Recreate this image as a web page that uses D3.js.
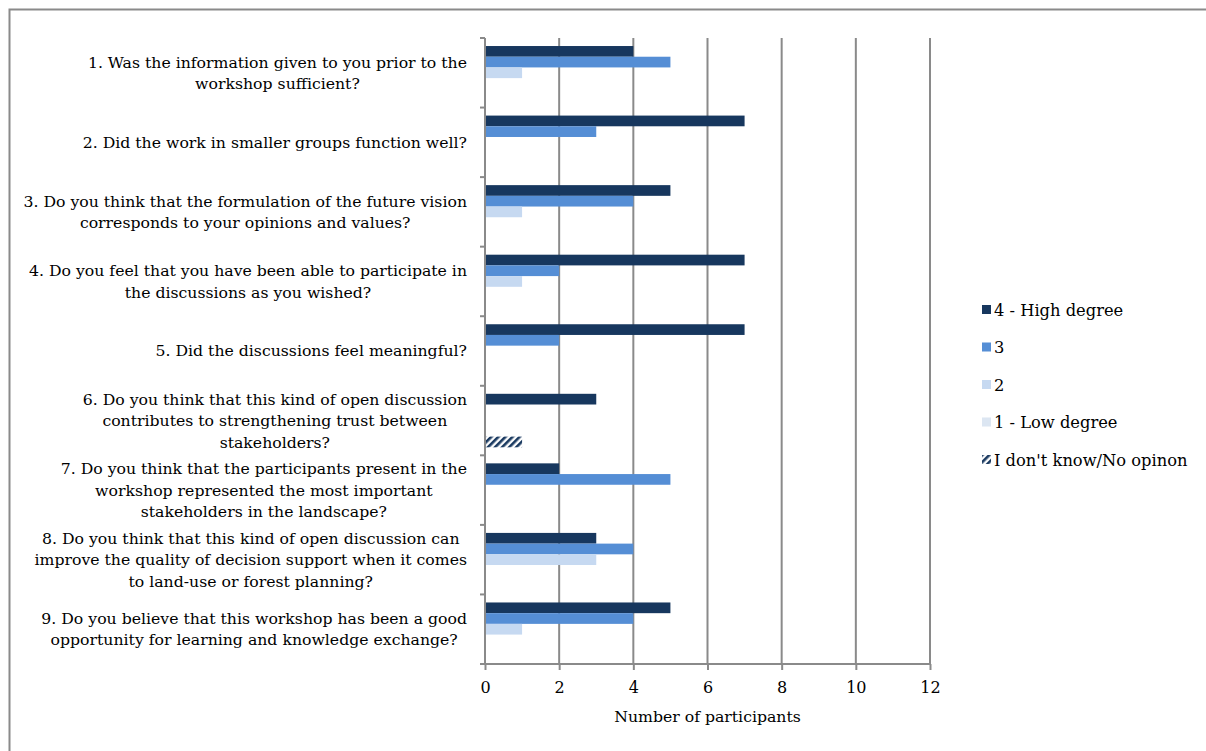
<!DOCTYPE html>
<html>
<head>
<meta charset="utf-8">
<script src="https://cdn.jsdelivr.net/npm/d3@7"></script>
<style>
  html, body { margin: 0; padding: 0; background: #fff; }
  svg { display: block; }
  text { font-family: "DejaVu Serif", "Liberation Serif", serif; fill: #000; }
</style>
</head>
<body>
<svg id="chart" width="1206" height="751"></svg>
<script>
// Survey questions (wrapped as drawn, one entry per line)
const questions = [
  ["1. Was the information given to you prior to the", "workshop sufficient?"],
  ["2. Did the work in smaller groups function well?"],
  ["3. Do you think that the formulation of the future vision", "corresponds to your opinions and values?"],
  ["4. Do you feel that you have been able to participate in", "the discussions as you wished?"],
  ["5. Did the discussions feel meaningful?"],
  ["6. Do you think that this kind of open discussion", "contributes to strengthening trust between", "stakeholders?"],
  ["7. Do you think that the participants present in the", "workshop represented the most important", "stakeholders in the landscape?"],
  ["8. Do you think that this kind of open discussion can", "improve the quality of decision support when it comes", "to land-use or forest planning?"],
  ["9. Do you believe that this workshop has been a good", "opportunity for learning and knowledge exchange?"]
];

// Number of participants per answer, per question
const seriesNames = ["4 - High degree", "3", "2", "1 - Low degree", "I don't know/No opinon"];
const highDegree = [4, 7, 5, 7, 7, 3, 2, 3, 5];
const degree3    = [5, 3, 4, 2, 2, 0, 5, 4, 4];
const degree2    = [1, 0, 1, 1, 0, 0, 0, 3, 1];
const lowDegree  = [0, 0, 0, 0, 0, 0, 0, 0, 0];
const noOpinion  = [0, 0, 0, 0, 0, 1, 0, 0, 0];

const xTicks = [0, 2, 4, 6, 8, 10, 12];
const xTitle = "Number of participants";

const seriesValues = [highDegree, degree3, degree2, lowDegree, noOpinion];
const seriesColors = ["#17375e", "#558ed5", "#c6d9f1", "#dce6f2", "url(#hatch)"];

const svg = d3.select("#chart");

// hatch pattern for the "no opinion" series
const defs = svg.append("defs");
defs.append("pattern")
  .attr("id", "hatch")
  .attr("patternUnits", "userSpaceOnUse")
  .attr("width", 5).attr("height", 5)
  .attr("patternTransform", "rotate(45)")
  .call(p => {
    p.append("rect").attr("width", 5).attr("height", 5).attr("fill", "#fff");
    p.append("rect").attr("width", 2.6).attr("height", 5).attr("fill", "#17375e");
  });

// outer frame
svg.append("path")
  .attr("d", "M9.5,751 V9.5 H1206")
  .attr("fill", "none").attr("stroke", "#8a8a8a").attr("stroke-width", 2);

const plot = { left: 485, right: 930, top: 38, bottom: 664 };

const x = d3.scaleLinear().domain([0, 12]).range([plot.left, plot.right]);
const y = d3.scaleBand().domain(d3.range(questions.length)).range([plot.top, plot.bottom]).padding(0);
const inner = d3.scaleBand().domain(d3.range(seriesNames.length))
  .range([0, y.bandwidth()]).paddingOuter(0.75).paddingInner(0);

// vertical gridlines
svg.append("g").selectAll("line")
  .data(xTicks.slice(1))
  .join("line")
  .attr("x1", d => x(d)).attr("x2", d => x(d))
  .attr("y1", plot.top).attr("y2", plot.bottom)
  .attr("stroke", "#8a8a8a").attr("stroke-width", 2);

// bars
const rows = [];
seriesValues.forEach((vals, s) => vals.forEach((v, q) => { if (v > 0) rows.push({ s, q, v }); }));
svg.append("g").selectAll("rect")
  .data(rows)
  .join("rect")
  .attr("x", x(0))
  .attr("y", d => y(d.q) + inner(d.s))
  .attr("width", d => x(d.v) - x(0))
  .attr("height", inner.bandwidth())
  .attr("fill", d => seriesColors[d.s]);

// x axis
const xAxis = d3.axisBottom(x).tickValues(xTicks).tickSize(6).tickPadding(12).tickFormat(d3.format("d"));
const gx = svg.append("g").attr("transform", `translate(0,${plot.bottom})`).call(xAxis);
gx.select(".domain").attr("stroke", "#8a8a8a").attr("stroke-width", 2)
  .attr("d", `M${plot.left - 5},0H${plot.right}`);
gx.selectAll(".tick line").attr("stroke", "#8a8a8a").attr("stroke-width", 2);
gx.selectAll(".tick text").style("font-size", "16px").attr("fill", "#000")
  .style("font-family", '"DejaVu Serif", serif');

// y axis line with ticks at category boundaries
const gy = svg.append("g");
gy.append("line")
  .attr("x1", plot.left).attr("x2", plot.left)
  .attr("y1", plot.top).attr("y2", plot.bottom)
  .attr("stroke", "#8a8a8a").attr("stroke-width", 2);
gy.selectAll("line.tk")
  .data(d3.range(questions.length + 1))
  .join("line").attr("class", "tk")
  .attr("x1", plot.left - 5).attr("x2", plot.left)
  .attr("y1", d => plot.top + d * y.step()).attr("y2", d => plot.top + d * y.step())
  .attr("stroke", "#8a8a8a").attr("stroke-width", 2);

// category labels, centred block, right-aligned to the axis
const lineH = 21.5;
const labelRight = 467;
questions.forEach((lines, q) => {
  const g = svg.append("g");
  const cy = y(q) + y.bandwidth() / 2;
  const texts = g.selectAll("text").data(lines).join("text")
    .style("font-size", "15.7px")
    .attr("text-anchor", "middle")
    .attr("dy", "0.35em")
    .attr("y", (d, i) => cy + (i - (lines.length - 1) / 2) * lineH)
    .text(d => d);
  const maxW = d3.max(texts.nodes(), n => n.getComputedTextLength());
  texts.attr("x", labelRight - maxW / 2);
});

// axis title
svg.append("text")
  .attr("x", (plot.left + plot.right) / 2).attr("y", 717)
  .attr("text-anchor", "middle").attr("dy", "0.35em")
  .style("font-size", "15.7px")
  .text(xTitle);

// legend
const legend = svg.append("g");
seriesNames.forEach((name, i) => {
  const ly = 310 + i * 37.5;
  legend.append("rect")
    .attr("x", 982).attr("y", ly - 5).attr("width", 9).attr("height", 9)
    .attr("fill", seriesColors[i]);
  legend.append("text")
    .attr("x", 994).attr("y", ly).attr("dy", "0.35em")
    .style("font-size", "16.3px")
    .text(name);
});
</script>
</body>
</html>
